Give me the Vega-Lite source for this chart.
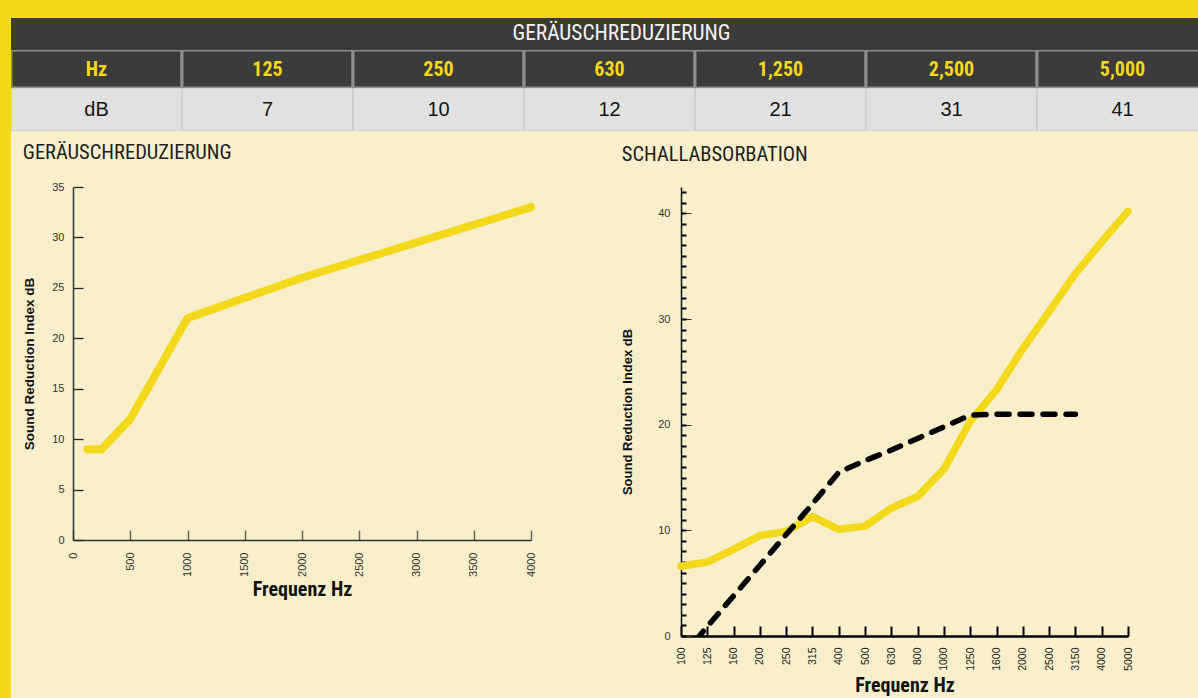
{
  "$schema": "https://vega.github.io/schema/vega-lite/v6.json",
  "background": "#f9f0cb",
  "padding": 0,
  "autosize": {"type": "pad"},
  "config": {
    "view": {"stroke": null},
    "font": "Liberation Sans",
    "axis": {"grid": false, "labelFont": "Liberation Sans", "titleFont": "Liberation Sans"}
  },
  "datasets": {
    "banner": [{"t": "GERÄUSCHREDUZIERUNG"}],
    "table": [
      {"col": "Hz", "val": "dB"},
      {"col": "125", "val": "7"},
      {"col": "250", "val": "10"},
      {"col": "630", "val": "12"},
      {"col": "1,250", "val": "21"},
      {"col": "2,500", "val": "31"},
      {"col": "5,000", "val": "41"}
    ],
    "reduction": [
      {"hz": 125, "db": 9},
      {"hz": 250, "db": 9},
      {"hz": 500, "db": 12},
      {"hz": 1000, "db": 22},
      {"hz": 2000, "db": 26},
      {"hz": 4000, "db": 33}
    ],
    "absorbYellow": [
      {"hz": 100, "db": 6.6}, {"hz": 125, "db": 7.0}, {"hz": 160, "db": 8.2}, {"hz": 200, "db": 9.5},
      {"hz": 250, "db": 9.9}, {"hz": 315, "db": 11.3}, {"hz": 400, "db": 10.1}, {"hz": 500, "db": 10.4},
      {"hz": 630, "db": 12.1}, {"hz": 800, "db": 13.2}, {"hz": 1000, "db": 15.8}, {"hz": 1250, "db": 20.3},
      {"hz": 1600, "db": 23.3}, {"hz": 2000, "db": 27.2}, {"hz": 2500, "db": 30.7}, {"hz": 3150, "db": 34.3},
      {"hz": 4000, "db": 37.3}, {"hz": 5000, "db": 40.2}
    ],
    "absorbBlack": [
      {"hz": 100, "db": -2.1}, {"hz": 125, "db": 0.9}, {"hz": 160, "db": 3.8}, {"hz": 200, "db": 6.7},
      {"hz": 250, "db": 9.6}, {"hz": 315, "db": 12.5}, {"hz": 400, "db": 15.5}, {"hz": 500, "db": 16.6},
      {"hz": 630, "db": 17.6}, {"hz": 800, "db": 18.7}, {"hz": 1000, "db": 19.8}, {"hz": 1250, "db": 20.9},
      {"hz": 1600, "db": 21}, {"hz": 2000, "db": 21}, {"hz": 2500, "db": 21}, {"hz": 3150, "db": 21}
    ],
    "blank": [{}]
  },
  "spacing": 0,
  "hconcat": [
    {
      "width": 11, "height": 698,
      "data": {"name": "blank"},
      "view": {"fill": "#f4d916", "stroke": null},
      "mark": {"type": "rect", "color": "#f4d916"},
      "encoding": {}
    },
    {
      "spacing": 11,
      "vconcat": [
        {
          "spacing": 0,
          "vconcat": [
            {
              "width": 1187, "height": 18,
              "data": {"name": "blank"},
              "view": {"fill": "#f4d916", "stroke": null},
              "mark": {"type": "rect", "color": "#f4d916"},
              "encoding": {}
            },
            {
              "width": 1187, "height": 32,
              "data": {"name": "banner"},
              "view": {"fill": "#3b3b3b", "stroke": null},
              "mark": {"type": "text", "color": "#f4f4f4", "font": "Roboto Condensed, Liberation Sans Narrow, DejaVu Sans Condensed, sans-serif", "fontSize": 21.4, "dx": 17, "baseline": "middle"},
              "encoding": {"text": {"field": "t"}}
            },
            {
              "width": 1187, "height": 38,
              "data": {"name": "table"},
              "view": {"fill": "#3b3b3b", "stroke": null},
              "encoding": {
                "x": {"field": "col", "type": "nominal", "sort": null,
                      "scale": {"type": "band", "domain": ["Hz", "125", "250", "630", "1,250", "2,500", "5,000"], "range": [0, 1197], "paddingInner": 0, "paddingOuter": 0},
                      "axis": null}
              },
              "layer": [
                {"mark": {"type": "rect", "fill": "#3b3b3b", "stroke": "#8e8e8e", "strokeWidth": 3, "clip": true}},
                {"mark": {"type": "text", "color": "#f5d816", "font": "Roboto Condensed, Liberation Sans Narrow, DejaVu Sans Condensed, sans-serif", "fontWeight": "bold", "fontSize": 20, "baseline": "middle", "dy": 1, "clip": true},
                 "encoding": {"text": {"field": "col"}}}
              ]
            },
            {
              "width": 1187, "height": 43,
              "data": {"name": "table"},
              "view": {"fill": "#e1e1e1", "stroke": null},
              "encoding": {
                "x": {"field": "col", "type": "nominal", "sort": null,
                      "scale": {"type": "band", "domain": ["Hz", "125", "250", "630", "1,250", "2,500", "5,000"], "range": [0, 1197], "paddingInner": 0, "paddingOuter": 0},
                      "axis": null}
              },
              "layer": [
                {"mark": {"type": "rect", "fill": "#e1e1e1", "stroke": "#cdcdcd", "strokeWidth": 1.5, "clip": true}},
                {"mark": {"type": "text", "color": "#151515", "font": "Liberation Sans", "fontSize": 20, "baseline": "middle", "clip": true},
                 "encoding": {"text": {"field": "val"}}}
              ]
            }
          ]
        },
        {
          "spacing": 0,
          "hconcat": [
            {
              "width": 11, "height": 10,
              "data": {"name": "blank"},
              "mark": {"type": "rect", "opacity": 0},
              "encoding": {}
            },
            {
              "spacing": 85,
              "hconcat": [
                {
                  "width": 458, "height": 353,
                  "title": {"text": "GERÄUSCHREDUZIERUNG", "anchor": "start", "frame": "bounds", "font": "Roboto Condensed, Liberation Sans Narrow, DejaVu Sans Condensed, sans-serif", "fontSize": 20.5, "fontWeight": "normal", "color": "#1e1e1e", "offset": 18},
                  "data": {"name": "reduction"},
                  "mark": {"type": "line", "color": "#f3d91c", "strokeWidth": 8, "strokeCap": "round", "strokeJoin": "round"},
                  "encoding": {
                    "x": {"field": "hz", "type": "quantitative",
                          "scale": {"domain": [0, 4000], "nice": false, "zero": true},
                          "axis": {"values": [0, 500, 1000, 1500, 2000, 2500, 3000, 3500, 4000], "format": "d", "labelAngle": 270, "labelFlush": false, "labelOverlap": false,
                                   "tickSize": -10, "tickWidth": 1.5, "tickColor": "#666666", "domainColor": "#333333", "domainWidth": 1.5,
                                   "labelPadding": 22, "labelFontSize": 11, "labelColor": "#333333",
                                   "title": "Frequenz Hz", "titleFont": "Roboto Condensed, Liberation Sans Narrow, DejaVu Sans Condensed, sans-serif", "titleFontSize": 20, "titleFontWeight": "bold", "titleColor": "#111111", "titlePadding": 3}},
                    "y": {"field": "db", "type": "quantitative",
                          "scale": {"domain": [0, 35], "nice": false},
                          "axis": {"values": [0, 5, 10, 15, 20, 25, 30, 35], "labelFlush": false, "labelOverlap": false,
                                   "tickSize": -10, "tickWidth": 1.3, "tickColor": "#222222", "domainColor": "#333333", "domainWidth": 1.5,
                                   "labelPadding": 19, "labelFontSize": 11, "labelColor": "#333333",
                                   "title": "Sound Reduction Index dB", "titleFontSize": 13.5, "titleFontWeight": "bold", "titleColor": "#111111", "titlePadding": 15}}
                  }
                },
                {
                  "width": 447, "height": 449,
                  "title": {"text": "SCHALLABSORBATION", "anchor": "start", "frame": "bounds", "font": "Roboto Condensed, Liberation Sans Narrow, DejaVu Sans Condensed, sans-serif", "fontSize": 20.5, "fontWeight": "normal", "color": "#1e1e1e", "offset": 20, "dy": -2},
                  "resolve": {"axis": {"y": "independent"}},
                  "layer": [
                    {
                      "data": {"name": "absorbYellow"},
                      "mark": {"type": "line", "color": "#f3d91c", "strokeWidth": 7.5, "strokeCap": "round", "strokeJoin": "round"},
                      "encoding": {
                        "x": {"field": "hz", "type": "ordinal",
                              "scale": {"type": "point", "padding": 0, "domain": [100, 125, 160, 200, 250, 315, 400, 500, 630, 800, 1000, 1250, 1600, 2000, 2500, 3150, 4000, 5000]},
                              "axis": {"labelAngle": 270, "labelOverlap": false, "tickSize": -10, "tickWidth": 2, "tickColor": "#000000", "domainColor": "#000000", "domainWidth": 2.5,
                                       "labelPadding": 21, "labelFontSize": 10.5, "labelColor": "#222222",
                                       "title": "Frequenz Hz", "titleFont": "Roboto Condensed, Liberation Sans Narrow, DejaVu Sans Condensed, sans-serif", "titleFontSize": 20, "titleFontWeight": "bold", "titleColor": "#111111", "titlePadding": 5}},
                        "y": {"field": "db", "type": "quantitative",
                              "scale": {"domain": [0, 42.5], "nice": false},
                              "axis": {"orient": "left", "values": [0, 10, 20, 30, 40], "labelFlush": false, "labelOverlap": false,
                                       "tickSize": -10, "tickWidth": 1, "tickColor": "#333333", "domainColor": "#111111", "domainWidth": 1.5,
                                       "labelPadding": 21, "labelFontSize": 11, "labelColor": "#333333",
                                       "title": "Sound Reduction Index dB", "titleFontSize": 13, "titleFontWeight": "bold", "titleColor": "#111111", "titlePadding": 23}}
                      }
                    },
                    {
                      "data": {"name": "absorbBlack"},
                      "mark": {"type": "line", "color": "#000000", "strokeWidth": 5.5, "strokeDash": [12, 11], "strokeCap": "round", "strokeJoin": "round", "clip": true},
                      "encoding": {
                        "x": {"field": "hz", "type": "ordinal"},
                        "y": {"field": "db", "type": "quantitative",
                              "axis": {"orient": "left", "values": [0,1,2,3,4,5,6,7,8,9,10,11,12,13,14,15,16,17,18,19,20,21,22,23,24,25,26,27,28,29,30,31,32,33,34,35,36,37,38,39,40,41,42],
                                       "labels": false, "domain": false, "title": null, "tickSize": -5, "tickWidth": 2, "tickColor": "#000000"}}
                      }
                    }
                  ]
                }
              ]
            }
          ]
        }
      ]
    }
  ]
}
